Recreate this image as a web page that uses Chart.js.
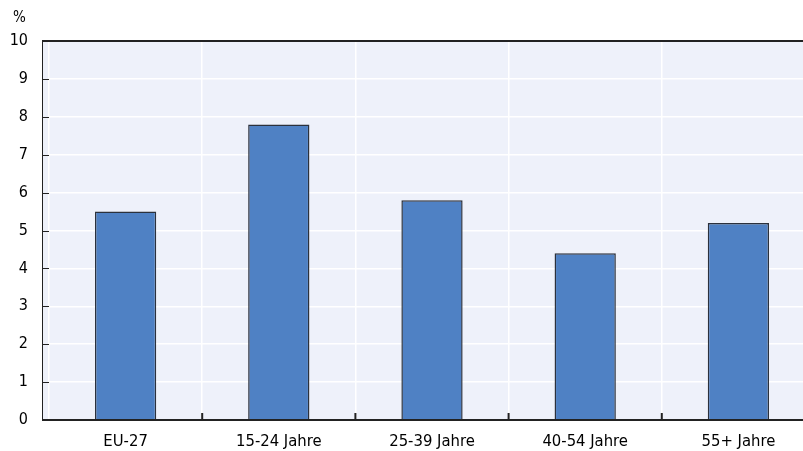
<!DOCTYPE html>
<html><head><meta charset="utf-8">
<script src="https://cdn.jsdelivr.net/npm/chart.js@4/dist/chart.umd.min.js"></script>
<style>
html,body{margin:0;padding:0;background:#fff;overflow:hidden;}
#wrap{width:803px;height:451px;overflow:hidden;position:relative;}
#c{position:absolute;left:0;top:0;}
</style></head><body>
<div id="wrap"><canvas id="c" width="815" height="451"></canvas></div>
<script>
const categories = ["EU-27", "15-24 Jahre", "25-39 Jahre", "40-54 Jahre", "55+ Jahre"];
const values = [5.5, 7.8, 5.8, 4.4, 5.2];
const yTicks = [0,1,2,3,4,5,6,7,8,9,10];
const unitLabel = "%";

const FONT = "'DejaVu Sans Condensed', 'Liberation Sans Narrow', 'Liberation Sans', Arial, sans-serif";
const AXIS = "#222222";
const BG = "#eef1fa";
const EXT = 7;

const decor = {
  id: 'decor',
  beforeDraw(chart) {
    const {ctx, chartArea: a} = chart;
    ctx.save();
    ctx.fillStyle = BG;
    ctx.fillRect(a.left - EXT, a.top, a.right - a.left + EXT, a.bottom - a.top);
    ctx.restore();
  },
  afterDatasetsDraw(chart) {
    const {ctx, chartArea: a, scales} = chart;
    const y = scales.y, x = scales.x;
    ctx.save();
    ctx.strokeStyle = AXIS;
    ctx.lineWidth = 1;
    ctx.beginPath();
    ctx.moveTo(a.left - EXT + 0.5, a.top);
    ctx.lineTo(a.left - EXT + 0.5, a.bottom + 1);
    ctx.stroke();
    ctx.lineWidth = 2;
    ctx.beginPath();
    ctx.moveTo(a.left - EXT, a.top);
    ctx.lineTo(a.right, a.top);
    ctx.stroke();
    ctx.beginPath();
    ctx.moveTo(a.left - EXT, a.bottom);
    ctx.lineTo(a.right, a.bottom);
    ctx.stroke();
    ctx.lineWidth = 1;
    yTicks.forEach(v => {
      const py = Math.round(y.getPixelForValue(v)) + 0.5;
      ctx.beginPath();
      ctx.moveTo(a.left - EXT, py);
      ctx.lineTo(a.left - EXT + 7, py);
      ctx.stroke();
    });
    ctx.lineWidth = 2;
    for (let i = 1; i < categories.length; i++) {
      const px = (x.getPixelForValue(i - 1) + x.getPixelForValue(i)) / 2;
      ctx.beginPath();
      ctx.moveTo(px, a.bottom);
      ctx.lineTo(px, a.bottom - 7);
      ctx.stroke();
    }
    ctx.fillStyle = "#000";
    ctx.font = "15px " + FONT;
    ctx.textAlign = "left";
    ctx.textBaseline = "middle";
    ctx.fillText(unitLabel, 13, 18);
    ctx.restore();
  }
};

new Chart(document.getElementById('c'), {
  type: 'bar',
  data: {
    labels: categories,
    datasets: [{
      data: values,
      backgroundColor: '#4f81c4',
      borderColor: '#2b313c',
      borderWidth: 1.5,
      barPercentage: 0.4,
      categoryPercentage: 1.0
    }]
  },
  options: {
    responsive: false,
    animation: false,
    devicePixelRatio: 1,
    layout: { padding: { top: 41, right: 0, bottom: 0, left: 0 } },
    plugins: { legend: { display: false }, tooltip: { enabled: false } },
    scales: {
      x: {
        offset: true,
        grid: { offset: true, color: '#ffffff', lineWidth: 1.5, drawTicks: false },
        border: { display: false },
        ticks: { color: '#000', font: { family: FONT, size: 16.5 }, padding: 12, maxRotation: 0 },
        afterFit(s) { s.height = 31; }
      },
      y: {
        min: 0, max: 10,
        afterBuildTicks(s) { s.ticks = yTicks.map(v => ({value: v})); },
        grid: { color: '#ffffff', lineWidth: 1.5, drawTicks: false },
        border: { display: false },
        ticks: { color: '#000', font: { family: FONT, size: 16 }, padding: 21 },
        afterFit(s) { s.width = 49; }
      }
    }
  },
  plugins: [decor]
});
</script>
</body></html>
